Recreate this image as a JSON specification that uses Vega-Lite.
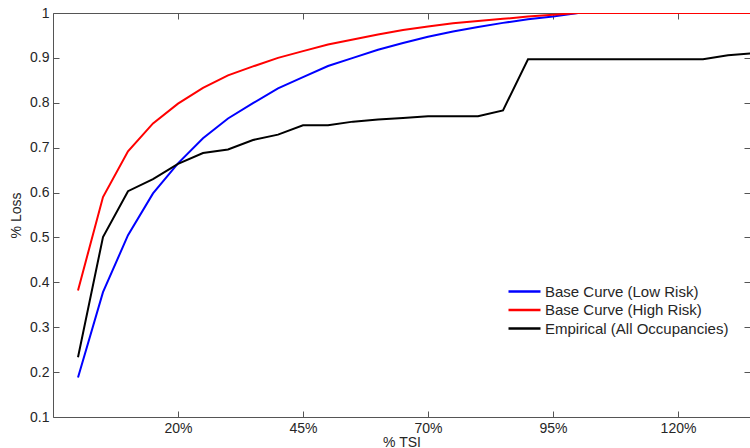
{
  "$schema": "https://vega.github.io/schema/vega-lite/v6.json",
  "width": 697,
  "height": 404,
  "autosize": {"type": "none"},
  "padding": {"left": 53, "top": 13, "right": 0, "bottom": 31},
  "background": "white",
  "config": {
    "view": {"stroke": null},
    "font": "Liberation Sans",
    "axis": {"labelFont": "Liberation Sans", "titleFont": "Liberation Sans", "labelFontSize": 14, "titleFontSize": 14, "labelColor": "#262626", "titleColor": "#262626", "titleFontWeight": "normal", "domainColor": "#555", "tickColor": "#555", "grid": false}
  },
  "data": {"values": [
    {"x": 0, "v": 0.188, "s": "Base Curve (Low Risk)"},
    {"x": 5, "v": 0.378, "s": "Base Curve (Low Risk)"},
    {"x": 10, "v": 0.505, "s": "Base Curve (Low Risk)"},
    {"x": 15, "v": 0.598, "s": "Base Curve (Low Risk)"},
    {"x": 20, "v": 0.665, "s": "Base Curve (Low Risk)"},
    {"x": 25, "v": 0.721, "s": "Base Curve (Low Risk)"},
    {"x": 30, "v": 0.765, "s": "Base Curve (Low Risk)"},
    {"x": 35, "v": 0.799, "s": "Base Curve (Low Risk)"},
    {"x": 40, "v": 0.832, "s": "Base Curve (Low Risk)"},
    {"x": 45, "v": 0.857, "s": "Base Curve (Low Risk)"},
    {"x": 50, "v": 0.882, "s": "Base Curve (Low Risk)"},
    {"x": 55, "v": 0.9, "s": "Base Curve (Low Risk)"},
    {"x": 60, "v": 0.918, "s": "Base Curve (Low Risk)"},
    {"x": 65, "v": 0.933, "s": "Base Curve (Low Risk)"},
    {"x": 70, "v": 0.947, "s": "Base Curve (Low Risk)"},
    {"x": 75, "v": 0.959, "s": "Base Curve (Low Risk)"},
    {"x": 80, "v": 0.969, "s": "Base Curve (Low Risk)"},
    {"x": 85, "v": 0.978, "s": "Base Curve (Low Risk)"},
    {"x": 90, "v": 0.986, "s": "Base Curve (Low Risk)"},
    {"x": 95, "v": 0.992, "s": "Base Curve (Low Risk)"},
    {"x": 100, "v": 1, "s": "Base Curve (Low Risk)"},
    {"x": 105, "v": 1, "s": "Base Curve (Low Risk)"},
    {"x": 110, "v": 1, "s": "Base Curve (Low Risk)"},
    {"x": 115, "v": 1, "s": "Base Curve (Low Risk)"},
    {"x": 120, "v": 1, "s": "Base Curve (Low Risk)"},
    {"x": 125, "v": 1, "s": "Base Curve (Low Risk)"},
    {"x": 130, "v": 1, "s": "Base Curve (Low Risk)"},
    {"x": 135, "v": 1, "s": "Base Curve (Low Risk)"},
    {"x": 0, "v": 0.382, "s": "Base Curve (High Risk)"},
    {"x": 5, "v": 0.59, "s": "Base Curve (High Risk)"},
    {"x": 10, "v": 0.692, "s": "Base Curve (High Risk)"},
    {"x": 15, "v": 0.754, "s": "Base Curve (High Risk)"},
    {"x": 20, "v": 0.798, "s": "Base Curve (High Risk)"},
    {"x": 25, "v": 0.833, "s": "Base Curve (High Risk)"},
    {"x": 30, "v": 0.861, "s": "Base Curve (High Risk)"},
    {"x": 35, "v": 0.881, "s": "Base Curve (High Risk)"},
    {"x": 40, "v": 0.9, "s": "Base Curve (High Risk)"},
    {"x": 45, "v": 0.915, "s": "Base Curve (High Risk)"},
    {"x": 50, "v": 0.93, "s": "Base Curve (High Risk)"},
    {"x": 55, "v": 0.941, "s": "Base Curve (High Risk)"},
    {"x": 60, "v": 0.952, "s": "Base Curve (High Risk)"},
    {"x": 65, "v": 0.962, "s": "Base Curve (High Risk)"},
    {"x": 70, "v": 0.97, "s": "Base Curve (High Risk)"},
    {"x": 75, "v": 0.977, "s": "Base Curve (High Risk)"},
    {"x": 80, "v": 0.982, "s": "Base Curve (High Risk)"},
    {"x": 85, "v": 0.987, "s": "Base Curve (High Risk)"},
    {"x": 90, "v": 0.992, "s": "Base Curve (High Risk)"},
    {"x": 95, "v": 0.996, "s": "Base Curve (High Risk)"},
    {"x": 100, "v": 1, "s": "Base Curve (High Risk)"},
    {"x": 105, "v": 1, "s": "Base Curve (High Risk)"},
    {"x": 110, "v": 1, "s": "Base Curve (High Risk)"},
    {"x": 115, "v": 1, "s": "Base Curve (High Risk)"},
    {"x": 120, "v": 1, "s": "Base Curve (High Risk)"},
    {"x": 125, "v": 1, "s": "Base Curve (High Risk)"},
    {"x": 130, "v": 1, "s": "Base Curve (High Risk)"},
    {"x": 135, "v": 1, "s": "Base Curve (High Risk)"},
    {"x": 0, "v": 0.233, "s": "Empirical (All Occupancies)"},
    {"x": 5, "v": 0.501, "s": "Empirical (All Occupancies)"},
    {"x": 10, "v": 0.603, "s": "Empirical (All Occupancies)"},
    {"x": 15, "v": 0.63, "s": "Empirical (All Occupancies)"},
    {"x": 20, "v": 0.664, "s": "Empirical (All Occupancies)"},
    {"x": 25, "v": 0.688, "s": "Empirical (All Occupancies)"},
    {"x": 30, "v": 0.696, "s": "Empirical (All Occupancies)"},
    {"x": 35, "v": 0.717, "s": "Empirical (All Occupancies)"},
    {"x": 40, "v": 0.729, "s": "Empirical (All Occupancies)"},
    {"x": 45, "v": 0.75, "s": "Empirical (All Occupancies)"},
    {"x": 50, "v": 0.75, "s": "Empirical (All Occupancies)"},
    {"x": 55, "v": 0.758, "s": "Empirical (All Occupancies)"},
    {"x": 60, "v": 0.763, "s": "Empirical (All Occupancies)"},
    {"x": 65, "v": 0.766, "s": "Empirical (All Occupancies)"},
    {"x": 70, "v": 0.77, "s": "Empirical (All Occupancies)"},
    {"x": 75, "v": 0.77, "s": "Empirical (All Occupancies)"},
    {"x": 80, "v": 0.77, "s": "Empirical (All Occupancies)"},
    {"x": 85, "v": 0.783, "s": "Empirical (All Occupancies)"},
    {"x": 90, "v": 0.897, "s": "Empirical (All Occupancies)"},
    {"x": 95, "v": 0.897, "s": "Empirical (All Occupancies)"},
    {"x": 100, "v": 0.897, "s": "Empirical (All Occupancies)"},
    {"x": 105, "v": 0.897, "s": "Empirical (All Occupancies)"},
    {"x": 110, "v": 0.897, "s": "Empirical (All Occupancies)"},
    {"x": 115, "v": 0.897, "s": "Empirical (All Occupancies)"},
    {"x": 120, "v": 0.897, "s": "Empirical (All Occupancies)"},
    {"x": 125, "v": 0.897, "s": "Empirical (All Occupancies)"},
    {"x": 130, "v": 0.906, "s": "Empirical (All Occupancies)"},
    {"x": 135, "v": 0.91, "s": "Empirical (All Occupancies)"}
  ]},
  "layer": [
    {
      "mark": {"type": "line", "strokeWidth": 2, "clip": true},
      "encoding": {
        "x": {"field": "x", "type": "quantitative", "scale": {"domain": [-5, 134.4], "nice": false, "zero": false},
          "axis": {"orient": "bottom", "values": [20, 45, 70, 95, 120], "labelExpr": "datum.value + '%'", "title": "% TSI", "tickSize": -6, "labelPadding": 10, "titlePadding": 0, "labelFlush": false}},
        "y": {"field": "v", "type": "quantitative", "scale": {"domain": [0.1, 1], "nice": false, "zero": false},
          "axis": {"orient": "left", "values": [0.1, 0.2, 0.3, 0.4, 0.5, 0.6, 0.7, 0.8, 0.9, 1], "labelExpr": "datum.value == 1 ? '1' : format(datum.value, '.1f')", "title": "% Loss", "tickSize": -6, "labelPadding": 10, "titlePadding": 6, "labelFlush": false}},
        "color": {"field": "s", "type": "nominal",
          "scale": {"domain": ["Base Curve (Low Risk)", "Base Curve (High Risk)", "Empirical (All Occupancies)"], "range": ["#0000ff", "#ff0000", "#000000"]},
          "legend": {"title": null, "orient": "none", "legendX": 462, "legendY": 269, "symbolType": "M-2,0H2", "symbolSize": 256, "symbolStrokeWidth": 2.5, "labelFontSize": 15, "labelFont": "Liberation Sans", "labelColor": "#262626", "labelOffset": 11, "rowPadding": 0.5, "labelLimit": 400}}
      }
    },
    {
      "mark": {"type": "point", "opacity": 0},
      "encoding": {
        "x": {"field": "x", "type": "quantitative", "axis": {"orient": "top", "values": [20, 45, 70, 95, 120], "labels": false, "title": null, "tickSize": -6}},
        "y": {"field": "v", "type": "quantitative", "axis": {"orient": "right", "values": [0.1, 0.2, 0.3, 0.4, 0.5, 0.6, 0.7, 0.8, 0.9, 1], "labels": false, "title": null, "tickSize": -6, "domain": false}}
      }
    }
  ],
  "resolve": {"axis": {"x": "independent", "y": "independent"}}
}
